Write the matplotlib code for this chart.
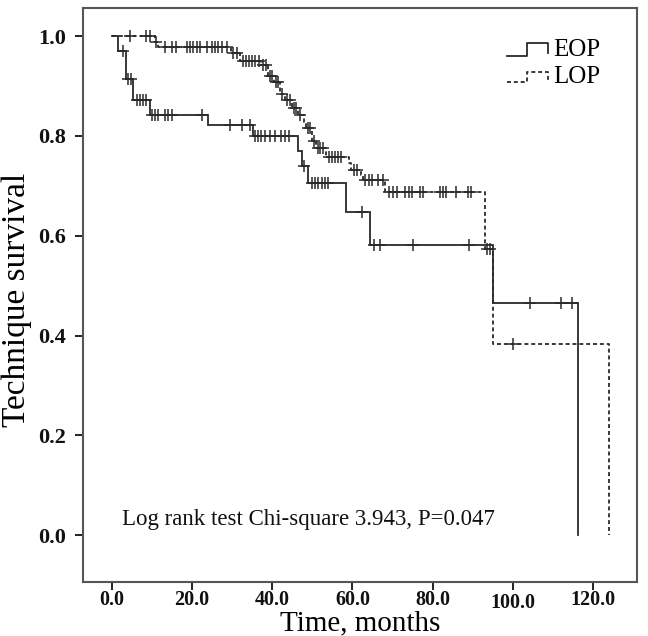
import numpy as np
import matplotlib
matplotlib.use("Agg")
import matplotlib.pyplot as plt
from matplotlib.lines import Line2D
from matplotlib.transforms import ScaledTranslation

# ---------------- data ----------------
eop_times = [0.0, 1.6, 3.5, 5.3, 9.5, 24.0, 35.3, 46.4, 47.4, 48.9, 58.3, 64.5, 95.1, 116.2]
eop_surv = [1.0, 0.97, 0.915, 0.872, 0.842, 0.822, 0.800, 0.770, 0.740, 0.706, 0.648, 0.581, 0.466, 0.0]
eop_censor = [2.7, 4.1, 4.7, 6.2, 7.0, 7.8, 8.6, 9.9, 10.7, 11.6, 13.2, 14.0, 14.9, 22.4,
              29.4, 32.4, 34.4, 35.7, 36.5, 37.3, 38.2, 39.4, 40.7, 42.3, 43.1, 44.2,
              47.8, 49.8, 50.7, 51.5, 52.3, 53.1, 54.0, 62.3, 65.3, 66.8, 75.2, 89.1,
              104.3, 112.0, 114.9]

lop_times = [0.0, 10.7, 11.5, 29.8, 32.0, 37.3, 38.9, 40.4, 41.9, 43.2, 45.0, 46.5, 47.8,
             48.4, 50.0, 50.8, 53.5, 59.2, 59.6, 62.2, 62.6, 68.2, 93.1, 95.1, 124.0]
lop_surv = [1.0, 0.989, 0.978, 0.967, 0.951, 0.942, 0.920, 0.908, 0.885, 0.872, 0.856, 0.842,
            0.828, 0.815, 0.790, 0.775, 0.757, 0.745, 0.731, 0.721, 0.711, 0.688, 0.573, 0.382, 0.0]
lop_censor = [4.6, 8.6, 9.5, 11.1, 13.2, 14.9, 16.1, 18.6, 19.4, 20.3, 21.1, 21.9, 23.6, 24.9,
              25.7, 26.5, 27.4, 28.6, 30.3, 31.2, 32.6, 33.4, 34.2, 35.0, 35.8, 36.6, 37.8,
              38.4, 39.4, 40.0, 40.9, 41.5, 42.4, 43.7, 44.4, 45.5, 46.0, 46.9, 48.9, 49.5,
              50.3, 51.3, 51.9, 52.6, 54.2, 54.9, 55.6, 56.3, 57.2, 60.3, 61.2, 63.1, 64.2,
              65.0, 66.5, 67.6, 69.2, 70.2, 71.0, 73.2, 74.0, 74.8, 76.8, 77.7, 81.8, 82.6,
              83.4, 85.9, 88.9, 89.7, 93.6, 94.3, 100.1]

x_ticks = [0, 20, 40, 60, 80, 100, 120]
y_ticks = [0.0, 0.2, 0.4, 0.6, 0.8, 1.0]
group_labels = ["EOP", "LOP"]
annotation = "Log rank test Chi-square 3.943, P=0.047"

# ---------------- plot ----------------
plt.rcParams['font.family'] = ['Liberation Serif', 'DejaVu Serif']

fig = plt.figure(figsize=(6.48, 6.36), dpi=100)
ax = fig.add_axes([0.128, 0.085, 0.855, 0.902])

lc = '#2a2a2a'


def censor_y(times, surv, cens):
    t = np.asarray(times)
    s = np.asarray(surv)
    idx = np.searchsorted(t, np.asarray(cens), side='right') - 1
    return s[idx]


ax.step(eop_times, eop_surv, where='post', color=lc, lw=1.3, solid_joinstyle='miter')
ax.plot(eop_censor, censor_y(eop_times, eop_surv, eop_censor), ls='none',
        marker='+', ms=8, mew=1.1, color=lc)

ax.step(lop_times, lop_surv, where='post', color=lc, lw=1.3, ls=(0, (2.2, 1.6)))
ax.plot(lop_censor, censor_y(lop_times, lop_surv, lop_censor), ls='none',
        marker='+', ms=8, mew=1.1, color=lc)

ax.set_xlim(-7.24, 131.0)
ax.set_ylim(-0.094, 1.056)
ax.set_xticks(x_ticks)
ax.set_xticklabels([f"{v:.1f}" for v in x_ticks], fontweight='bold', fontsize=14.5)
ax.set_yticks(y_ticks)
ax.set_yticklabels([f"{v:.1f}" for v in y_ticks], fontweight='bold', fontsize=16)
ax.tick_params(axis='x', direction='out', length=6, width=1.3, pad=0, colors='#111111')
ax.tick_params(axis='y', direction='out', length=6, width=1.3, pad=6, colors='#111111')
# the reference draws the "100.0" label a little lower than the others
lbl = ax.get_xticklabels()[5]
lbl.set_transform(lbl.get_transform() + ScaledTranslation(0, -3 / 100.0, fig.dpi_scale_trans))
for sp in ax.spines.values():
    sp.set_color('#555555')
    sp.set_linewidth(1.5)

ax.set_xlabel("Time, months", fontsize=21)
ax.xaxis.set_label_coords(0.5, (582 - 630) / 574.0)
ax.xaxis.label.set_va('baseline')
ax.set_ylabel("Technique survival", fontsize=24)
ax.yaxis.set_label_coords((17 - 83) / 554.0, (582 - 300) / 574.0)
ax.yaxis.label.set_va('center')

ax.text(2.5, 0.032, annotation, fontsize=16.5, va='center', ha='left', color='#111111')


# legend: step-shaped handles in pixel-derived axes fractions
def fx(px):
    return (px - 83) / 554.0


def fy(py):
    return (582 - py) / 574.0


h1x = [fx(507), fx(527), fx(527), fx(548), fx(548)]
h1y = [fy(56), fy(56), fy(43), fy(43), fy(53)]
h2x = [fx(507), fx(527), fx(527), fx(548), fx(548)]
h2y = [fy(82), fy(82), fy(72), fy(72), fy(80)]
ax.add_line(Line2D(h1x, h1y, transform=ax.transAxes, color=lc, lw=1.3))
ax.add_line(Line2D(h2x, h2y, transform=ax.transAxes, color=lc, lw=1.3, ls=(0, (2.2, 1.6))))
ax.text(fx(553), fy(50), group_labels[0], transform=ax.transAxes, fontsize=18, va='center', ha='left')
ax.text(fx(553), fy(77), group_labels[1], transform=ax.transAxes, fontsize=18, va='center', ha='left')

fig.savefig("out.png", dpi=100)
